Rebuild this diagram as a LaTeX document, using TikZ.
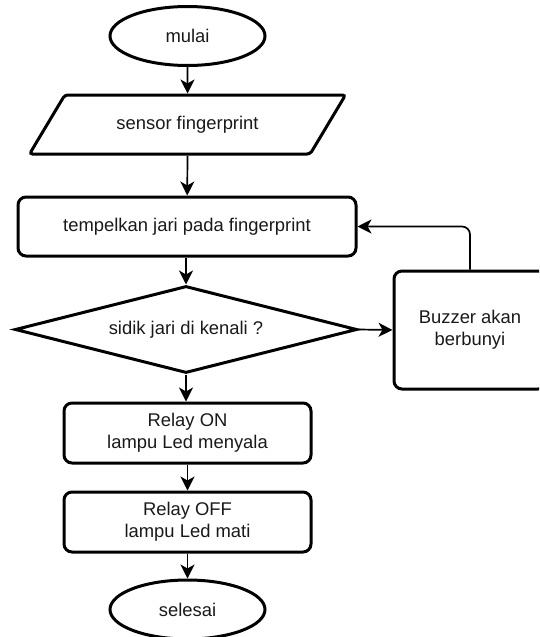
\documentclass[tikz,border=0pt]{standalone}
\usepackage{fontspec}
\setmainfont{Liberation Sans}
\usetikzlibrary{shapes.geometric,arrows.meta}
\begin{document}
\begin{tikzpicture}[x=1pt,y=-1pt,
  every node/.style={font=\fontsize{18.4}{22}\selectfont, text=black!90, inner sep=0pt, align=center},
  shp/.style={draw=black, line width=3pt},
  term/.style={shp, ellipse, minimum width=155pt, minimum height=59pt},
  proc/.style={shp, rectangle, rounded corners=8pt},
  io/.style={shp, trapezium, trapezium left angle=40, trapezium right angle=140, trapezium stretches=true, rounded corners=3pt, minimum width=316pt, minimum height=59pt},
  dec/.style={shp, diamond, aspect=3.93, minimum width=342pt, minimum height=87pt},
  arr/.style={draw=black, line width=1.7pt, -{Stealth[length=14pt,width=14pt,inset=4pt]}}
]
\useasboundingbox (0,0) rectangle (539,637);
\clip (0,0) rectangle (539,637);
\node[term] (mulai) at (187.5,36) {mulai};
\node[io] (sensor) at (187.5,124.5) {sensor fingerprint};
\node[proc, minimum width=338pt, minimum height=59pt] (tempel) at (187,226.5) {tempelkan jari pada fingerprint};
\node[dec] (sidik) at (186,329.5) {sidik jari di kenali ?};
\node[proc, minimum width=152pt, minimum height=118pt] (buzzer) at (470,330) {Buzzer akan\\berbunyi};
\node[proc, minimum width=247pt, minimum height=60pt] (on) at (187.5,433) {Relay ON\\lampu Led menyala};
\node[proc, minimum width=247pt, minimum height=60pt] (off) at (187.5,522) {Relay OFF\\lampu Led mati};
\node[term] (selesai) at (187.5,609.5) {selesai};
\coordinate (corner) at (buzzer.north |- tempel.east);
\draw[arr] (mulai) -- (sensor);
\draw[arr] (sensor.south -| mulai) -- (tempel);
\draw[arr] (tempel.south -| sidik.north) -- (sidik.north);
\draw[arr] (sidik.east) -- (buzzer.west);
\draw[arr, rounded corners=8pt] (buzzer.north) -- (corner) -- (tempel.east);
\draw[arr] (sidik.south) -- (on.north -| sidik.south);
\draw[arr] (on) -- (off);
\draw[arr] (off) -- (selesai);
\end{tikzpicture}
\end{document}
